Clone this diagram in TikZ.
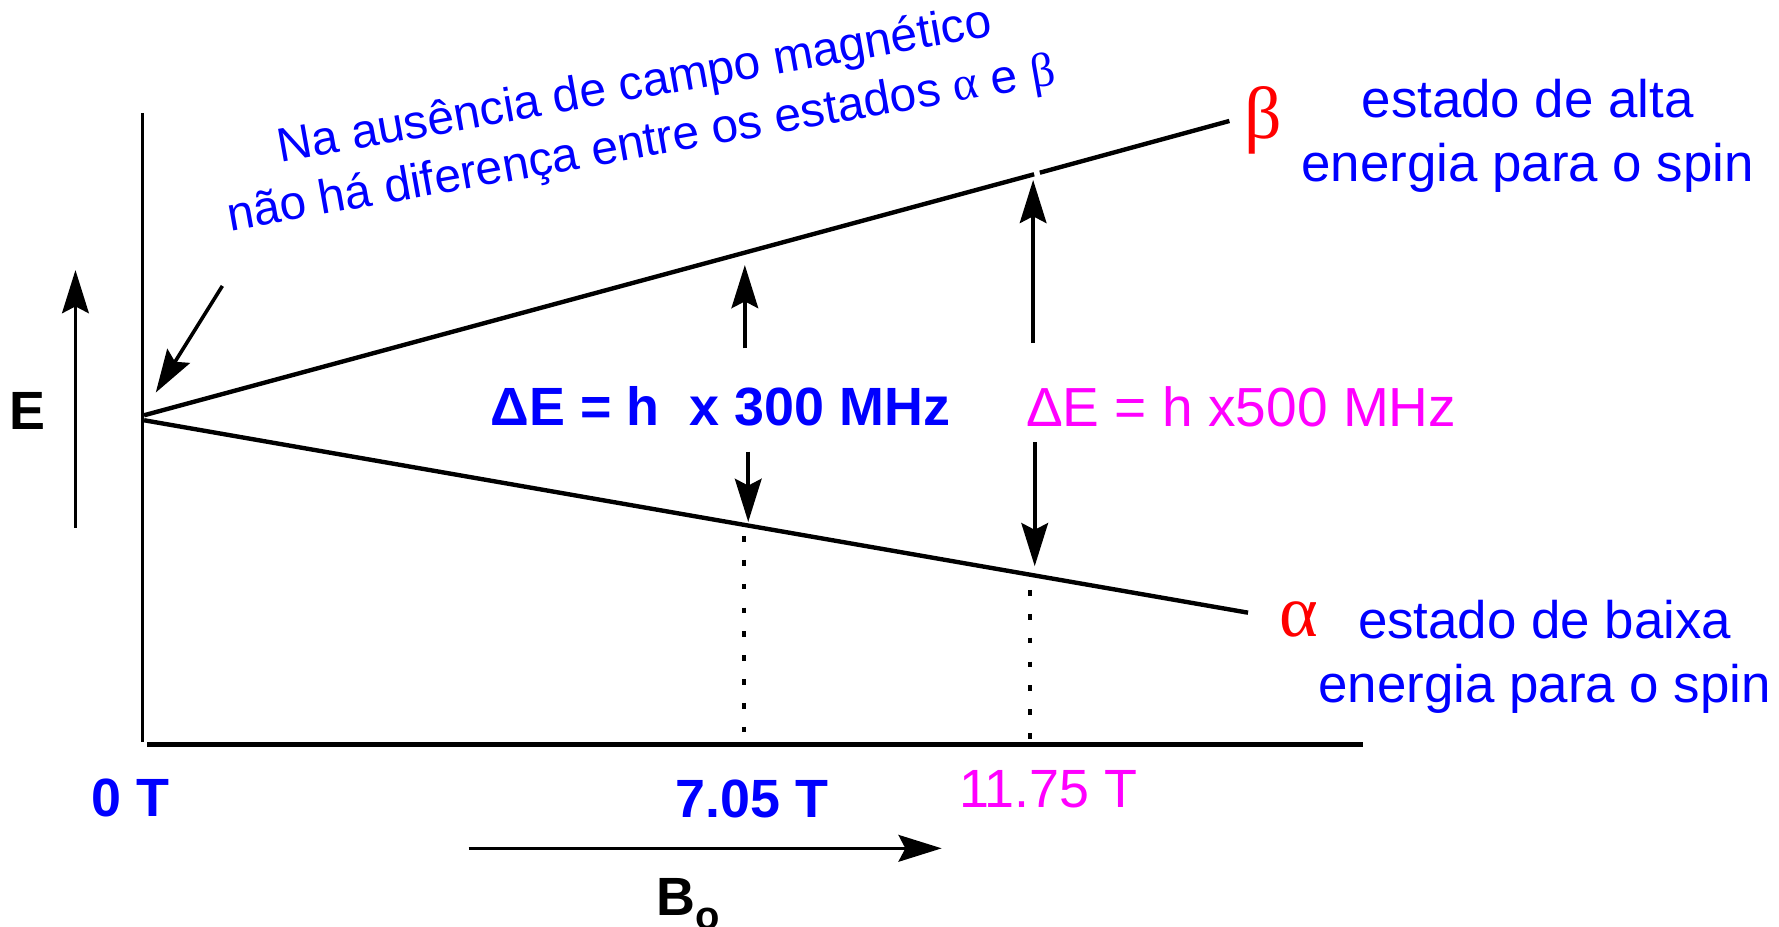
\documentclass[tikz,border=0pt]{standalone}
\usepackage{fontspec}
\setmainfont{Liberation Sans}
\newfontfamily\grk{Liberation Serif}
\definecolor{nmrblue}{HTML}{0000FF}
\definecolor{nmrmag}{HTML}{FF00FF}
\definecolor{nmrred}{HTML}{FF0000}
\usetikzlibrary{positioning, arrows.meta, calc}

\begin{document}
\begin{tikzpicture}[x=0.01cm, y=-0.01cm,
    level/.style={line width=1.1pt},
    tip/.style={-{Stealth[length=0.38cm, width=0.235cm, inset=0.06cm]}, line width=0.9pt},
    guide/.style={line width=1pt, dash pattern=on 0.05cm off 0.16cm},
    lbl/.style={inner sep=0pt, font=\fontsize{13.5}{16}\selectfont},
    lblb/.style={inner sep=0pt, font=\fontsize{13.5}{16}\selectfont\bfseries},
    state/.style={inner sep=0pt, align=center, text=nmrblue, font=\fontsize{13.25}{16}\selectfont},
    greek/.style={inner sep=0pt, text=nmrred, font=\fontsize{18.5}{20}\selectfont\grk},
    note/.style={inner sep=0pt, anchor=base, rotate=10.1, text=nmrblue, font=\fontsize{12}{14}\selectfont}]
  \useasboundingbox (0,0) rectangle (1568,817);

  % axes
  \coordinate (ytop) at (125.5,99.5);
  \coordinate (ybot) at (125.5,654);
  \coordinate (xleft) at (130,656.5);
  \coordinate (xright) at (1201.5,656.5);
  \draw[line width=0.9pt] (ytop) -- (ybot);
  \draw[line width=1.2pt] (xleft) -- (xright);

  % energy levels
  \coordinate (orgb) at (127,366);
  \coordinate (orga) at (127,370.4);
  \coordinate (bcut1) at (911.5,153.6);
  \coordinate (bcut2) at (916.5,152.2);
  \coordinate (bend) at (1083.6,106.6);
  \coordinate (aend) at (1100,540);
  \draw[level] (orgb) -- (bcut1);
  \draw[level] (bcut2) -- (bend);
  \draw[level] (orga) -- (aend);

  \node[greek] (beta) at (1113.5,105.7) {β};
  \node[greek] (alpha) at (1145,545.7) {α};
  \node[state, anchor=north] (high) at (1346.5,69.4) {estado de alta\\energia para o spin};
  \node[state, anchor=north] (low) at (1361.5,528.3) {estado de baixa\\energia para o spin};

  % energy axis
  \node[lblb] (eaxis) at (24,362) {E};
  \coordinate (ebot) at (66.5,465);
  \coordinate (etop) at (66.5,238);
  \draw[tip] (ebot) -- (etop);

  % note at zero field
  \node[note] (note1) at (561.7,87.4) {Na ausência de campo magnético};
  \node[note] (note2) at (567.2,138.8) {não há diferença entre os estados {\grk α} e {\grk β}};
  \coordinate (ptail) at (196,252);
  \coordinate (ptip) at (137.3,346);
  \draw[tip] (ptail) -- (ptip);

  % 7.05 T
  \node[lblb, text=nmrblue] (de300) at (635,357.7) {Δ{}E = h\ \ x 300 MHz};
  \coordinate (u300a) at (656.5,307);
  \coordinate (u300b) at (656.5,233.6);
  \coordinate (d300a) at (659.5,398);
  \coordinate (d300b) at (659.5,460);
  \draw[tip] (u300a) -- (u300b);
  \draw[tip] (d300a) -- (d300b);
  \coordinate (g300a) at (655.5,472.5);
  \coordinate (g300b) at (655.5,649);
  \draw[guide] (g300a) -- (g300b);

  % 11.75 T
  \node[lbl, text=nmrmag, font=\fontsize{13.8}{16}\selectfont] (de500) at (1094,358.3) {Δ{}E = h x500 MHz};
  \coordinate (u500a) at (910.6,302.5);
  \coordinate (u500b) at (910.6,158.6);
  \coordinate (d500a) at (912,390);
  \coordinate (d500b) at (912,499);
  \draw[tip] (u500a) -- (u500b);
  \draw[tip] (d500a) -- (d500b);
  \coordinate (g500a) at (907.6,520);
  \coordinate (g500b) at (907.6,653);
  \draw[guide] (g500a) -- (g500b);

  % field axis
  \node[lblb, text=nmrblue] (t0) at (115.3,703.5) {0 T};
  \node[lblb, text=nmrblue] (t705) at (663,704) {7.05 T};
  \node[lbl, text=nmrmag] (t1175) at (924,695.5) {11.75 T};
  \coordinate (bleft) at (413,747.7);
  \coordinate (bright) at (830,747.7);
  \draw[tip] (bleft) -- (bright);
  \node[lblb, anchor=base west] (bfield) at (578,806.5) {B\raisebox{-3.6pt}{\fontsize{10}{10}\selectfont o}};
\end{tikzpicture}
\end{document}
